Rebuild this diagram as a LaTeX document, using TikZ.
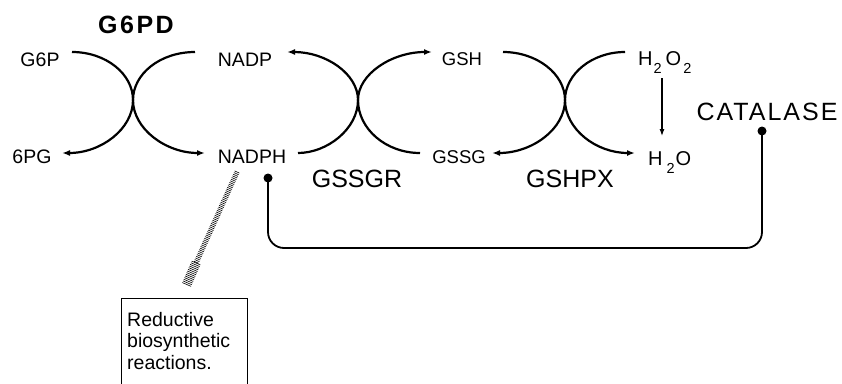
\documentclass[tikz,border=0pt]{standalone}
\usepackage{fontspec}
\setmainfont{Liberation Sans}
\usetikzlibrary{arrows.meta,decorations.pathreplacing}
\begin{document}
\begin{tikzpicture}[x=1pt,y=-1pt,
  lbl/.style={font=\fontsize{19.5}{21}\selectfont, inner sep=0pt, anchor=base},
  enz/.style={font=\fontsize{25}{28}\selectfont, inner sep=0pt, anchor=base},
  enzline/.style={line width=2.2pt},
  tipend/.style={-{Latex[length=8pt,width=6pt]}},
  conn/.style={line width=1.8pt, rounded corners=16pt},
  dot/.style={circle, fill=black, inner sep=0pt, minimum size=9pt},
  hatch/.style={decorate, line width=0.6pt},
  ]
\useasboundingbox (0,0) rectangle (842,383);
\clip (0,0) rectangle (842,383);

% labels
\node[enz, font=\fontsize{25}{28}\selectfont\bfseries\addfontfeature{LetterSpace=10}] (G6PD) at (136,33) {G6PD};
\node[lbl] (G6P) at (40,66) {G6P};
\node[lbl] (PG6) at (32,163) {6PG};
\node[lbl] (NADP) at (245,66) {NADP};
\node[lbl] (NADPH) at (252,163) {NADPH};
\node[lbl, font=\fontsize{18.5}{21}\selectfont] (GSH) at (462,65) {GSH};
\node[lbl, font=\fontsize{18.5}{21}\selectfont] (GSSG) at (459,163) {GSSG};
\node[enz] (GSSGR) at (357,187) {GSSGR};
\node[enz] (GSHPX) at (570,187) {GSHPX};
\node[enz, font=\fontsize{25}{28}\selectfont\addfontfeature{LetterSpace=8}] (CAT) at (767,120) {CATALASE};
\node[lbl, anchor=base west, font=\fontsize{20}{21}\selectfont] (H2O2) at (638,65)
  {H\hspace{1pt}\raisebox{-8pt}{\fontsize{14.5}{14}\selectfont 2}\hspace{4pt}O\hspace{2pt}\raisebox{-8pt}{\fontsize{14.5}{14}\selectfont 2}};
\node[lbl, anchor=base west, font=\fontsize{20}{21}\selectfont] (H2O) at (648,165)
  {H\hspace{4pt}\raisebox{-8pt}{\fontsize{14.5}{14}\selectfont 2}\hspace{1pt}O};

% enzyme centres
\coordinate (c1) at (133,100);
\coordinate (c2) at (358,100);
\coordinate (c3) at (565,100);

% G6PD
\draw[enzline, tipend] (72,52) .. controls (106,52) and (133,74) .. (c1)
   .. controls (133,129) and (101,153) .. (62,153);
\draw[enzline, tipend] (195,52) .. controls (160,52) and (133,74) .. (c1)
   .. controls (133,129) and (166,153) .. (205,153);
% GSSGR
\draw[enzline, tipend] (298,153) .. controls (327,153) and (358,129) .. (c2)
   .. controls (358,74) and (326,52) .. (287,52);
\draw[enzline, tipend] (420,153) .. controls (386,153) and (358,129) .. (c2)
   .. controls (358,74) and (392,52) .. (432,52);
% GSHPX
\draw[enzline, tipend] (503,52) .. controls (537,52) and (565,74) .. (c3)
   .. controls (565,129) and (532,153) .. (492,153);
\draw[enzline, tipend] (625,52) .. controls (592,52) and (565,74) .. (c3)
   .. controls (565,129) and (596,153) .. (635,153);

% H2O2 -> H2O
\coordinate (ha) at (662,78);
\coordinate (hb) at (662,136);
\draw[line width=1.1pt, -{Latex[length=7pt,width=5pt]}] (ha) -- (hb);

% NADPH -> CATALASE connector
\node[dot] (d1) at (268,178) {};
\node[dot] (d2) at (762,131) {};
\draw[conn] (d1.center) -- (268,248) -- (762,248) -- (d2.center);

% box
\node[draw, line width=0.9pt, anchor=north west, minimum width=126pt, minimum height=110pt, inner sep=0pt] (box) at (121,298) {};
\node[anchor=north west, align=left, inner sep=0pt, font=\fontsize{19.5}{21.5}\selectfont] (boxtext) at (127,312)
  {Reductive\\biosynthetic\\reactions.};

% hatched arrow
\coordinate (s1) at (237,172);
\coordinate (s2) at (196,263);
\coordinate (s3) at (186,286);
\draw[hatch, decoration={ticks, segment length=1.8pt, amplitude=2.6pt}] (s1) -- (s2);
\draw[hatch, decoration={ticks, segment length=1.8pt, amplitude=4.8pt}] (s2) -- (s3);
\end{tikzpicture}
\end{document}
